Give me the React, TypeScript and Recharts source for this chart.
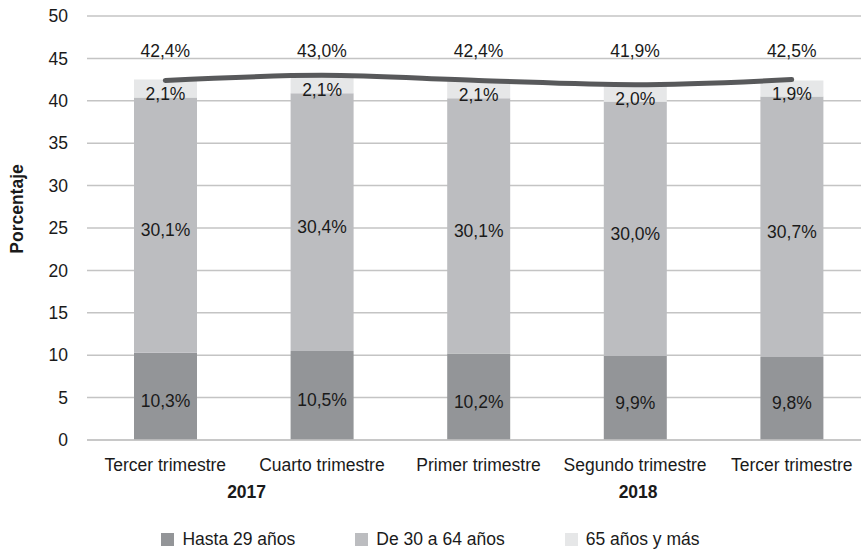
import {
  ComposedChart, Bar, Line, XAxis, YAxis, CartesianGrid, LabelList, Label,
} from 'recharts';

const categories = ['Tercer trimestre', 'Cuarto trimestre', 'Primer trimestre', 'Segundo trimestre', 'Tercer trimestre'];
const hasta29 = [10.3, 10.5, 10.2, 9.9, 9.8];
const de30a64 = [30.1, 30.4, 30.1, 30.0, 30.7];
const mas65 = [2.1, 2.1, 2.1, 2.0, 1.9];
const total = [42.4, 43.0, 42.4, 41.9, 42.5];
const yearGroups = [
  { label: '2017', from: 0, to: 1 },
  { label: '2018', from: 2, to: 4 },
];
const yTicks = [0, 5, 10, 15, 20, 25, 30, 35, 40, 45, 50];

const series = [
  { key: 'hasta', name: 'Hasta 29 años', color: '#939598' },
  { key: 'medio', name: 'De 30 a 64 años', color: '#bcbdc0' },
  { key: 'mayor', name: '65 años y más', color: '#e6e7e8' },
];

const data = categories.map((c, i) => ({
  cat: c,
  hasta: hasta29[i],
  medio: de30a64[i],
  mayor: mas65[i],
  total: total[i],
}));

// ── layout ────────────────────────────────────────────────────────────────────
const W = 872;
const H = 551;
const LEFT = 87;
const RIGHT = 2;
const CAT_W = (W - LEFT - RIGHT) / categories.length;
const FONT = '"Liberation Sans", Arial, Helvetica, sans-serif';
const FS = 17.5;
const TXT = '#1a1a1a';

const fmt = (v: number) => `${v.toFixed(1).replace('.', ',')}%`;

// eslint-disable-next-line @typescript-eslint/no-explicit-any
function MidLabel({ x, y, width, height, value }: any) {
  return (
    <text x={x + width / 2} y={y + height / 2 + 5} textAnchor="middle" dominantBaseline="central"
      fontSize={FS} fill={TXT} fontFamily={FONT}>
      {fmt(value)}
    </text>
  );
}

// eslint-disable-next-line @typescript-eslint/no-explicit-any
function TopLabel({ x, y, width, height, value }: any) {
  return (
    <text x={x + width / 2} y={y + height - 3} textAnchor="middle" dominantBaseline="central"
      fontSize={FS} fill={TXT} fontFamily={FONT}>
      {fmt(value)}
    </text>
  );
}

// eslint-disable-next-line @typescript-eslint/no-explicit-any
function TotalLabel({ x, value }: any) {
  return (
    <text x={x} y={51} textAnchor="middle" dominantBaseline="central"
      fontSize={FS} fill={TXT} fontFamily={FONT}>
      {fmt(value)}
    </text>
  );
}

// eslint-disable-next-line @typescript-eslint/no-explicit-any
function CatTick({ x, y, payload, index }: any) {
  const grp = yearGroups.find(g => g.from === index);
  return (
    <g>
      <text x={x} y={y + 23} textAnchor="middle" dominantBaseline="central"
        fontSize={FS} fill={TXT} fontFamily={FONT}>
        {payload.value}
      </text>
      {grp && (
        <text x={x + ((grp.to - grp.from) / 2) * CAT_W + 3} y={y + 50} textAnchor="middle"
          dominantBaseline="central" fontSize={FS} fontWeight="bold" fill={TXT} fontFamily={FONT}>
          {grp.label}
        </text>
      )}
    </g>
  );
}

export default function App() {
  return (
    <div style={{ position: 'absolute', left: 0, top: 0, width: 861, height: H, overflow: 'hidden', background: '#fff' }}>
      <ComposedChart width={W} height={H} data={data}
        margin={{ top: 16, right: RIGHT, left: 0, bottom: 0 }}>
        <CartesianGrid vertical={false} stroke="#c4c4c4" strokeWidth={1.5} />
        <XAxis dataKey="cat" height={111} axisLine={{ stroke: '#c4c4c4', strokeWidth: 1.5 }}
          tickLine={false} tickSize={0} interval={0} tick={<CatTick />} />
        <YAxis width={LEFT} domain={[0, 50]} ticks={yTicks} axisLine={false} tickLine={false}
          tickSize={10} tickMargin={9}
          tick={{ fontSize: FS, fill: TXT, fontFamily: FONT }}>
          <Label content={() => (
            <text x={17} y={209} transform="rotate(-90, 17, 209)" textAnchor="middle"
              dominantBaseline="central" fontSize={FS} fontWeight="bold" fill={TXT} fontFamily={FONT}>
              Porcentaje
            </text>
          )} />
        </YAxis>
        {series.map(s => (
          <Bar key={s.key} dataKey={s.key} name={s.name} stackId="a" fill={s.color}
            barSize={63} isAnimationActive={false}>
            <LabelList dataKey={s.key} content={s.key === 'mayor' ? <TopLabel /> : <MidLabel />} />
          </Bar>
        ))}
        <Line dataKey="total" type="monotone" stroke="#58595b" strokeWidth={5}
          strokeLinecap="round" dot={false} activeDot={false} isAnimationActive={false}>
          <LabelList dataKey="total" content={<TotalLabel />} />
        </Line>
      </ComposedChart>

      {/* Legend */}
      <div style={{
        position: 'absolute', left: 0, top: 529, width: 861, display: 'flex',
        justifyContent: 'center', gap: 60, fontFamily: FONT, fontSize: FS, color: TXT,
      }}>
        {series.map(s => (
          <div key={s.key} style={{ display: 'flex', alignItems: 'center' }}>
            <span style={{ width: 13, height: 13, background: s.color, marginRight: 8, display: 'inline-block' }} />
            <span>{s.name}</span>
          </div>
        ))}
      </div>
    </div>
  );
}
